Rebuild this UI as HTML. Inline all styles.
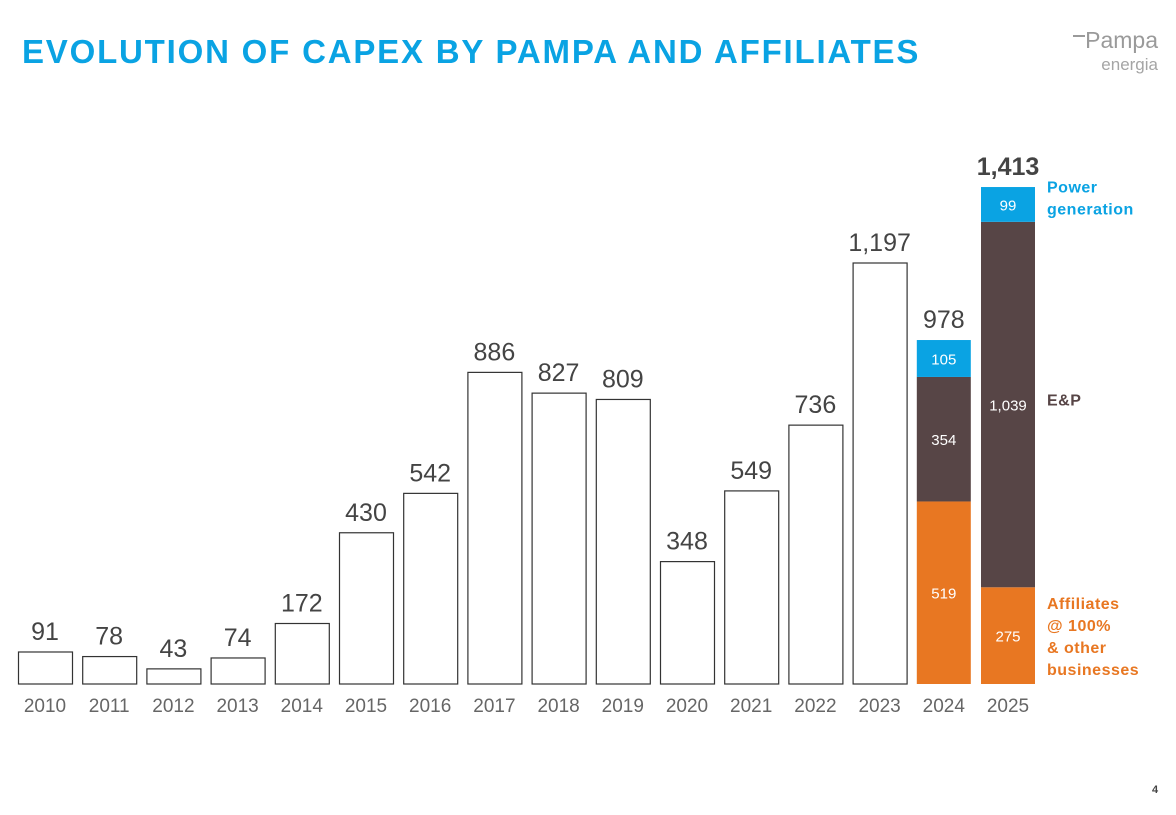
<!DOCTYPE html>
<html><head><meta charset="utf-8"><style>
body{margin:0;background:#fff;width:1176px;height:810px;overflow:hidden;font-family:"Liberation Sans",sans-serif}
</style></head><body>
<svg width="1176" height="810" xmlns="http://www.w3.org/2000/svg" id="chart">
<text x="22" y="63" font-size="33" font-weight="bold" fill="#0aa3e3" letter-spacing="1.8">EVOLUTION OF CAPEX BY PAMPA AND AFFILIATES</text>
<g>
<text x="1158" y="48" text-anchor="end" font-size="23" fill="#9a9a9a">Pampa</text>
<text x="1158" y="70" text-anchor="end" font-size="17" fill="#a5a5a5">energia</text>
<rect x="1073" y="35" width="12" height="2" fill="#9a9a9a"/>
</g>
<text x="1152" y="793" font-size="11" font-weight="bold" fill="#444">4</text>
<g id="bars"></g>
</svg>
<script>
const years=["2010","2011","2012","2013","2014","2015","2016","2017","2018","2019","2020","2021","2022","2023","2024","2025"];
const totals=[91,78,43,74,172,430,542,886,827,809,348,549,736,1197,978,1413];
const affiliates=[null,null,null,null,null,null,null,null,null,null,null,null,null,null,519,275];
const ep=[null,null,null,null,null,null,null,null,null,null,null,null,null,null,354,1039];
const power=[null,null,null,null,null,null,null,null,null,null,null,null,null,null,105,99];
const base=684, scale=421/1197, x0=18, step=64.2, bw=54;
const y=v=>base-v*scale, xAt=i=>x0+i*step;
const g=document.getElementById('bars');
const NS="http://www.w3.org/2000/svg";
function mk(t,a,txt){const e=document.createElementNS(NS,t);for(const k in a)e.setAttribute(k,a[k]);if(txt!=null)e.textContent=txt;g.appendChild(e);return e;}
const fmt=v=>v.toLocaleString('en-US');
years.forEach((yr,i)=>{
  const x=xAt(i);
  if(affiliates[i]==null){
    const r=mk('rect',{x:x+0.5,y:y(totals[i]),width:bw,height:totals[i]*scale,fill:'#fff',stroke:'#333','stroke-width':1.2});
    
    
  } else {
    let cum=0;
    [[affiliates[i],'#e87722','affiliates'],[ep[i],'#574546','ep'],[power[i],'#0aa3e3','power']].forEach(([v,c,n])=>{
      const r=mk('rect',{x:x,y:y(cum+v),width:bw,height:v*scale,fill:c});
      
      
      const t=mk('text',{x:x+bw/2,y:y(cum+v/2)+6,'text-anchor':'middle','font-size':15,fill:'#fff'},fmt(v));
      
      
      cum+=v;
    });
  }
  const last=i===years.length-1;
  const vl=mk('text',{x:x+bw/2,y:y(totals[i])-12,'text-anchor':'middle','font-size':25,'font-weight':last?'bold':'normal',fill:'#444'},fmt(totals[i]));
  
  
  const yl=mk('text',{x:x+bw/2,y:712,'text-anchor':'middle','font-size':19,fill:'#666'},yr);
  
  
});
const lx=1047;
const legs=[[["Power","generation"],'#0aa3e3',y(1413-99/2)-12,'legend-power'],[["E&P"],'#574546',y(275+1039/2)+1,'legend-ep'],[["Affiliates","@ 100%","& other","businesses"],'#e87722',609,'legend-affiliates']];
legs.forEach(([lines,c,yy,n])=>{
  lines.forEach((l,k)=>{
    const t=mk('text',{x:lx,y:yy+k*22,'font-size':16,'font-weight':'bold',fill:c,'letter-spacing':'0.5'},l);
    
    
  });
});
</script>
</body></html>
